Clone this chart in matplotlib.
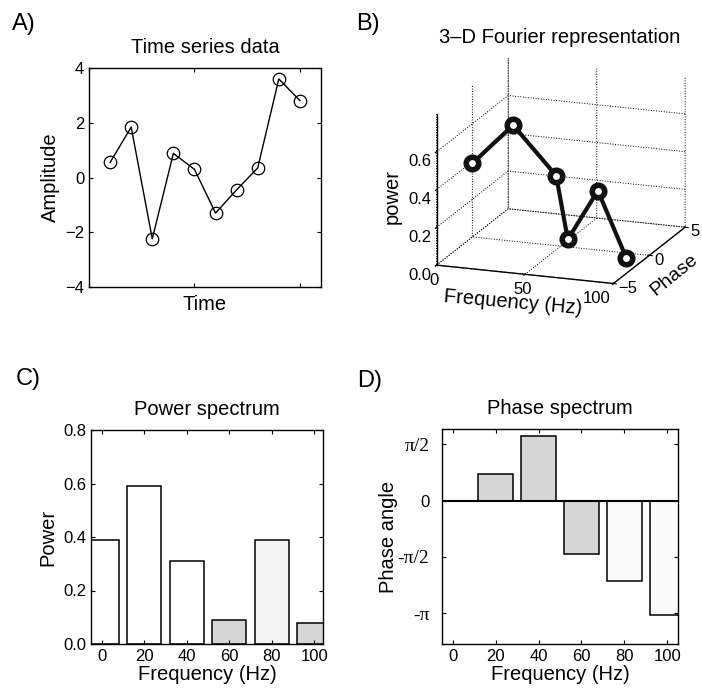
import numpy as np
import matplotlib
matplotlib.use("Agg")
import matplotlib.pyplot as plt

# --- data ---
time_idx = [1, 2, 3, 4, 5, 6, 7, 8, 9, 10]
amplitude = [0.55, 1.84, -2.24, 0.88, 0.30, -1.30, -0.45, 0.35, 3.60, 2.81]

freqs = [0, 20, 40, 60, 80, 100]
power = [0.39, 0.59, 0.31, 0.09, 0.39, 0.08]
phase = [0.0, 0.74, 1.81, -1.50, -2.24, -3.19]

power_colors = ["white", "white", "white", "#d6d6d6", "#f3f3f3", "#d6d6d6"]
phase_colors = ["white", "#d6d6d6", "#d6d6d6", "#d6d6d6", "#fafafa", "#fafafa"]

plt.rcParams["font.family"] = ["Liberation Sans", "DejaVu Sans"]
plt.rcParams["axes.linewidth"] = 1.0
plt.rcParams["xtick.direction"] = "in"
plt.rcParams["ytick.direction"] = "in"
plt.rcParams["xtick.top"] = True
plt.rcParams["ytick.right"] = True
plt.rcParams["xtick.major.size"] = 3
plt.rcParams["ytick.major.size"] = 3

W, H = 702, 689
fig = plt.figure(figsize=(W / 100, H / 100), dpi=100)


def rect(x0, y0, x1, y1):
    # pixel box (top-left origin) -> figure fraction
    return [x0 / W, 1 - y1 / H, (x1 - x0) / W, (y1 - y0) / H]


LBL = 14.5
TCK = 12

# A) time series
axA = fig.add_axes(rect(89, 68, 321, 287))
axA.plot(time_idx, amplitude, color="k", lw=1.0, marker="o", ms=9,
         mfc="none", mec="k", mew=0.9)
axA.set_xlim(0, 11)
axA.set_ylim(-4, 4)
axA.set_xticks([0, 5, 10])
axA.set_xticklabels([])
axA.set_yticks([-4, -2, 0, 2, 4])
axA.tick_params(labelsize=TCK)
axA.set_title("Time series data", fontsize=LBL, pad=11)
axA.set_xlabel("Time", fontsize=LBL, labelpad=2)
axA.set_ylabel("Amplitude", fontsize=LBL, labelpad=4)

# B) 3-D representation
with plt.rc_context({"grid.linestyle": ":", "grid.color": "k", "grid.linewidth": 0.7,
                     "xtick.direction": "out", "ytick.direction": "out"}):
    axB = fig.add_axes(rect(396, 32, 718, 317), projection="3d", proj_type="ortho")
axB.plot(freqs, phase, power, color="#111111", lw=3, marker="o", ms=9,
         mfc="white", mec="#111111", mew=4)
axB.view_init(elev=16.6, azim=-70)
axB.set_box_aspect((184, 205, 154), zoom=1.1)
axB.set_xlim(0, 100)
axB.set_ylim(-5, 5)
axB.set_zlim(0, 0.8)
axB.set_xticks([0, 50, 100])
axB.set_yticks([-5, 0, 5])
axB.set_zticks([0, 0.2, 0.4, 0.6])
axB.set_zticklabels(["0.0", "0.2", "0.4", "0.6"])
axB.tick_params(labelsize=TCK)
axB.tick_params(axis="x", pad=-4)
axB.tick_params(axis="y", pad=-5)
axB.tick_params(axis="z", pad=-1)
axB.xaxis.get_major_ticks()[2].label1.set_ha("right")
for t in axB.yaxis.get_major_ticks():
    t.label1.set_ha("left")
    t.label1.set_va("center")
axB.zaxis.set_ticks_position("lower")
axB.zaxis.set_label_position("lower")
for a in (axB.xaxis, axB.yaxis, axB.zaxis):
    a.set_pane_color((1, 1, 1, 0))
    a.pane.set_edgecolor((1, 1, 1, 0))
    a.line.set_color("k")
    a.line.set_linewidth(1.0)
axB.set_zlabel("power", fontsize=LBL, labelpad=-2)
fig.text(513 / W, 1 - 303 / H, "Frequency (Hz)", fontsize=LBL, rotation=-5,
         ha="center", va="center", rotation_mode="anchor")
fig.text(674 / W, 1 - 275 / H, "Phase", fontsize=14, rotation=39,
         ha="center", va="center", rotation_mode="anchor")
fig.text(560 / W, 1 - 43 / H, "3\u2013D Fourier representation", fontsize=LBL,
         ha="center", va="baseline")

# C) power spectrum
axC = fig.add_axes(rect(91, 430, 323, 644))
axC.bar(freqs, power, width=16, color=power_colors, edgecolor="k", lw=1.1)
axC.set_xlim(-5, 104)
axC.set_ylim(0, 0.8)
axC.set_xticks(freqs)
axC.set_yticks([0, 0.2, 0.4, 0.6, 0.8])
axC.set_yticklabels(["0.0", "0.2", "0.4", "0.6", "0.8"])
axC.tick_params(labelsize=TCK)
axC.set_title("Power spectrum", fontsize=LBL, pad=11)
axC.set_xlabel("Frequency (Hz)", fontsize=LBL, labelpad=1)
axC.set_ylabel("Power", fontsize=LBL, labelpad=4)

# D) phase spectrum
axD = fig.add_axes(rect(442, 429, 678, 644))
axD.bar(freqs, phase, width=16, color=phase_colors, edgecolor="k", lw=1.1)
axD.axhline(0, color="k", lw=1.5)
axD.set_xlim(-5, 105)
axD.set_ylim(-4, 2)
axD.set_xticks(freqs)
axD.set_yticks([-np.pi, -np.pi / 2, 0, np.pi / 2])
axD.set_yticklabels(["-\u03c0", "-\u03c0/2", "0", "\u03c0/2"])
axD.tick_params(labelsize=TCK)
axD.tick_params(axis="y", pad=9)
for t in axD.get_yticklabels():
    if t.get_text() != "0":
        t.set_fontfamily("Liberation Serif")
        t.set_fontsize(14)
axD.set_title("Phase spectrum", fontsize=LBL, pad=11)
axD.set_xlabel("Frequency (Hz)", fontsize=LBL, labelpad=1)
axD.set_ylabel("Phase angle", fontsize=LBL, labelpad=0)

# panel letters
for x, y, s in [(12, 13, "A)"), (356, 13, "B)"), (16, 368, "C)"), (357, 370, "D)")]:
    fig.text(x / W, 1 - y / H, s, fontsize=17, ha="left", va="top")

fig.savefig("out.png", dpi=100)
